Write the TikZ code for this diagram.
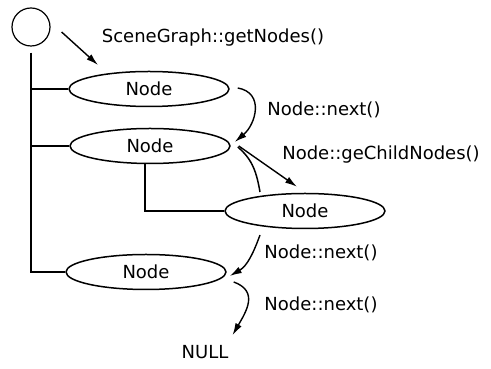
\documentclass[tikz,border=0pt]{standalone}
\usepackage{fontspec}
\setmainfont{DejaVu Sans}
\usepackage{tikz}
\usetikzlibrary{positioning, calc, shapes.geometric, arrows.meta}

\begin{document}
\begin{tikzpicture}[x=1pt,y=1pt,font=\fontsize{18}{21}\selectfont,
        elem/.style={ellipse,draw,line width=1.5pt,minimum width=160pt,minimum height=35pt,inner sep=0pt},
        call/.style={line width=1.4pt,-{Latex[length=12pt,width=7pt]}},
        treeline/.style={line width=1.5pt},
        lbl/.style={inner sep=0pt}]
        \useasboundingbox (0,0) rectangle (491,369);
        \node[circle,draw,line width=1.2pt,minimum size=38pt,inner sep=0pt] (root) at (31,342) {};
        \node[elem] (n1) at (149,280) {Node};
        \node[elem] (n2) at (150,223) {Node};
        \node[elem] (n3) at (305,158) {Node};
        \node[elem] (n4) at (146,97) {Node};
        \node[lbl] (null) at (205,17) {NULL};
        % tree lines
        \draw[treeline] ([yshift=-6pt]root.south) -- (root.south |- n4.west) -- (n4.west);
        \draw[treeline] (root.south |- n1.west) -- (n1.west);
        \draw[treeline] (root.south |- n2.west) -- (n2.west);
        \draw[treeline] ([xshift=-5pt]n2.south) |- (n3.west);
        % calls
        \draw[call] ([shift={(11,-5)}]root.east) -- ([shift={(-51,24)}]n1.center);
        \draw[call] ([shift={(8,1)}]n1.east) to[out=-10,in=40,looseness=1.3] ([shift={(4,4)}]n2.east);
        \draw[call] ([shift={(8,0)}]n2.east) -- ([shift={(-8,6)}]n3.north);
        \draw[treeline] ([shift={(7,-1)}]n2.east) to[out=-40,in=100] ([shift={(-45,19)}]n3.center);
        \draw[call] ([shift={(-45,-24)}]n3.center) to[out=-110,in=30] ([shift={(3,-4)}]n4.east);
        \draw[call] ([shift={(7,-10)}]n4.east) to[out=-20,in=60,looseness=1.3] ([shift={(4,10)}]null.north east);
        % labels
        \node[lbl] (getnodes) at (213,331) {SceneGraph::getNodes()};
        \node[lbl] (next1) at (324,259) {Node::next()};
        \node[lbl] (getchild) at (381,214) {Node::geChildNodes()};
        \node[lbl] (next2) at (321,116) {Node::next()};
        \node[lbl] (next3) at (321,64) {Node::next()};
    \end{tikzpicture}
\end{document}
